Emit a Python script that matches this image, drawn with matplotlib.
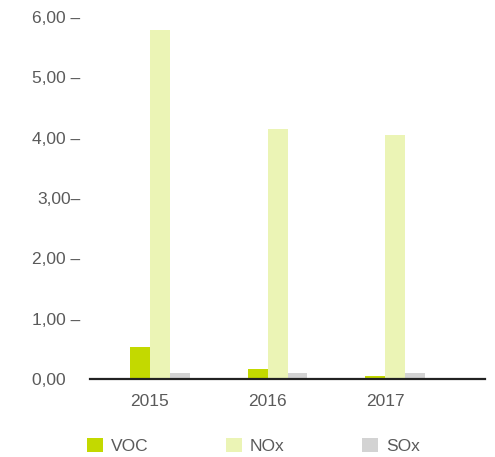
import matplotlib
matplotlib.use("Agg")
import matplotlib.pyplot as plt
from matplotlib.patches import Patch
import numpy as np

years = ["2015", "2016", "2017"]
voc = [0.53, 0.17, 0.05]
nox = [5.79, 4.15, 4.05]
sox = [0.10, 0.10, 0.10]
series_names = ["VOC", "NOx", "SOx"]
colors = ["#c3d900", "#ebf4b5", "#d3d3d3"]
ytick_vals = [0, 1, 2, 3, 4, 5, 6]
ytick_labels = ["0,00   ", "1,00 \u2013", "2,00 \u2013", "3,00\u2013", "4,00 \u2013", "5,00 \u2013", "6,00 \u2013"]

plt.rcParams['font.family'] = ['Liberation Sans', 'DejaVu Sans']

W, H = 495, 457
fig = plt.figure(figsize=(W / 100, H / 100), dpi=100)
ax = fig.add_axes([90 / W, 78 / H, 395 / W, (379 - 17) / H])

x = np.arange(len(years))
w = 0.17
ax.bar(x - w / 2, voc, w, color=colors[0], linewidth=0)
ax.bar(x + w / 2, nox, w, color=colors[1], linewidth=0)
ax.bar(x + 1.5 * w, sox, w, color=colors[2], linewidth=0)

ax.set_xlim(-0.51, 2.85)
ax.set_ylim(0, 6)
ax.set_xticks(x)
ax.set_xticklabels(years)
ax.set_yticks(ytick_vals)
ax.set_yticklabels(ytick_labels)
ax.tick_params(axis='both', length=0, labelsize=12.5, labelcolor="#5a5a5a")
ax.tick_params(axis='y', pad=7)
ax.tick_params(axis='x', pad=11)

for s in ["top", "right", "left"]:
    ax.spines[s].set_visible(False)
ax.spines["bottom"].set_color("#222222")
ax.spines["bottom"].set_linewidth(1.6)

handles = [Patch(facecolor=c, edgecolor='none') for c in colors]
leg = fig.legend(handles, series_names, ncol=3, loc='center left',
                 bbox_to_anchor=(87 / W, 11 / H), frameon=False,
                 fontsize=12.5, handlelength=0.92, handleheight=0.92,
                 handletextpad=0.46, columnspacing=4.45, labelcolor="#5a5a5a",
                 borderpad=0, borderaxespad=0)

fig.savefig("out.png", dpi=100)
